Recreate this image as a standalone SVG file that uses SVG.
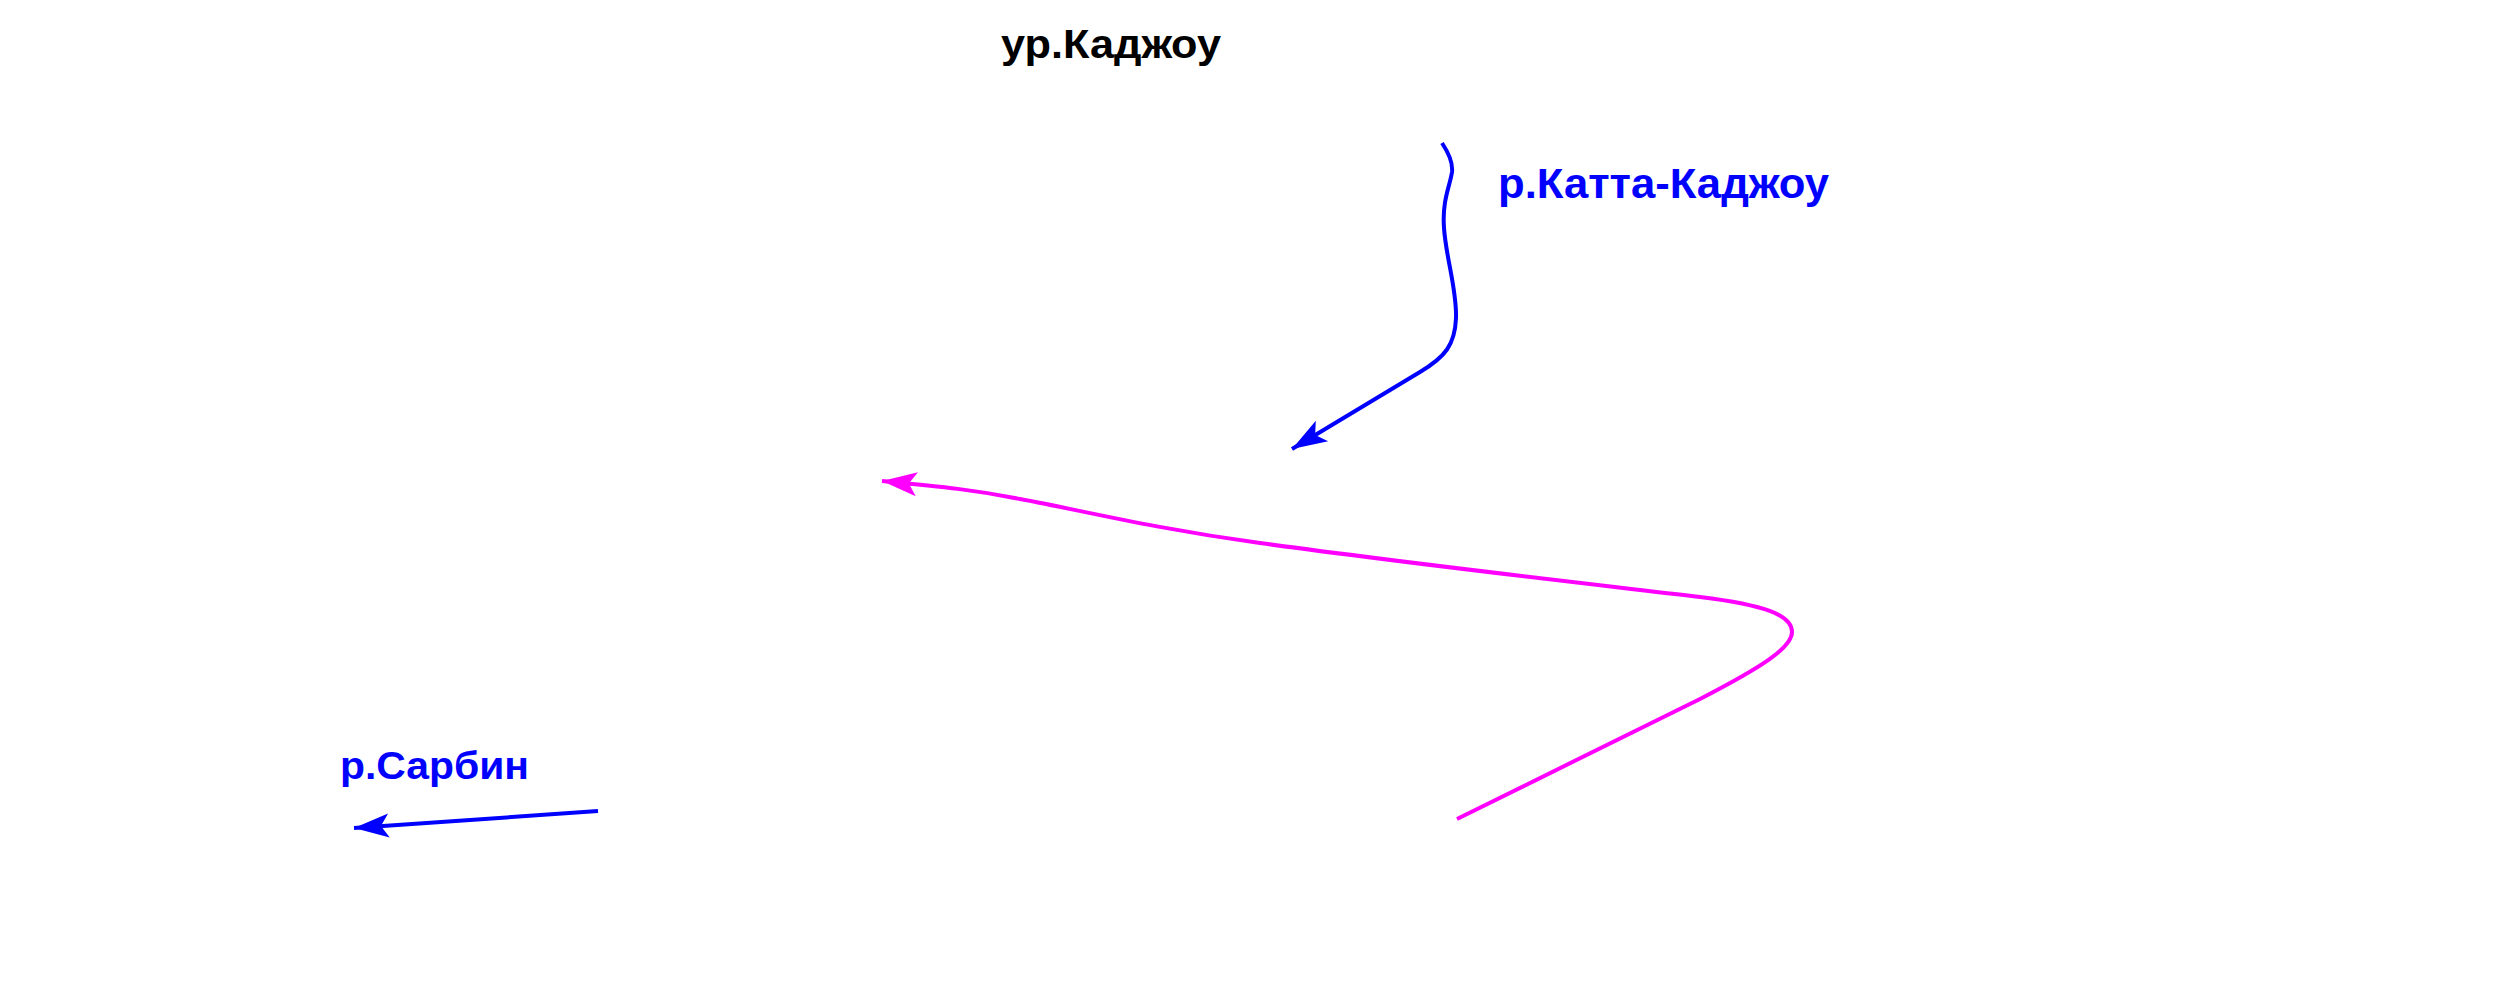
<svg xmlns="http://www.w3.org/2000/svg" width="2518" height="1000" viewBox="0 0 2518 1000">
<style>
.lbl{font-family:"Liberation Sans",Arial,sans-serif;font-weight:bold}
.blk{fill:#000}
.blu{fill:#0000FF}
.riv{fill:none;stroke-width:4;stroke-linejoin:round}
</style>
<defs>
<marker id="ahB" markerUnits="userSpaceOnUse" markerWidth="80" markerHeight="80" refX="0" refY="0" orient="auto" overflow="visible">
<path d="M0,0 L-35,-12 L-27,0 L-35,12 Z" fill="#0000FF"/>
</marker>
<marker id="ahM" markerUnits="userSpaceOnUse" markerWidth="80" markerHeight="80" refX="0" refY="0" orient="auto" overflow="visible">
<path d="M0,0 L-35,-12 L-27,0 L-35,12 Z" fill="#FF00FF"/>
</marker>
</defs>
<rect width="2518" height="1000" fill="#fff"/>
<g id="label-kadzhou"><text class="lbl blk" x="1001" y="58" font-size="40" textLength="220" lengthAdjust="spacingAndGlyphs">ур.Каджоу</text></g>
<g id="label-katta"><text class="lbl blu" x="1498" y="198" font-size="42" textLength="331" lengthAdjust="spacingAndGlyphs">р.Катта-Каджоу</text></g>
<g id="label-sarbin"><text class="lbl blu" x="340" y="779" font-size="39" textLength="189" lengthAdjust="spacingAndGlyphs">р.Сарбин</text></g>
<g id="connectors">
<path id="river-katta" class="riv" stroke="#0000FF" marker-end="url(#ahB)" d="M1442,143 C1450,155 1453,163 1452,172 C1450,186 1442,200 1444,228 C1446,258 1457,290 1456,318 C1455,345 1445,357 1420,372 L1292,449"/>
<path id="river-sarbin" class="riv" stroke="#0000FF" marker-end="url(#ahB)" d="M598,811 L354,828"/>
<path id="route" class="riv" stroke="#FF00FF" stroke-width="4.5" marker-end="url(#ahM)" d="M1457,819 L1700,699 C1760,668 1792,648 1792,632 C1792,615 1765,605 1700,597 C1600,585 1420,565 1260,543 C1150,528 1080,510 1020,499 C975,490 945,487 882,481"/>
</g>
</svg>
